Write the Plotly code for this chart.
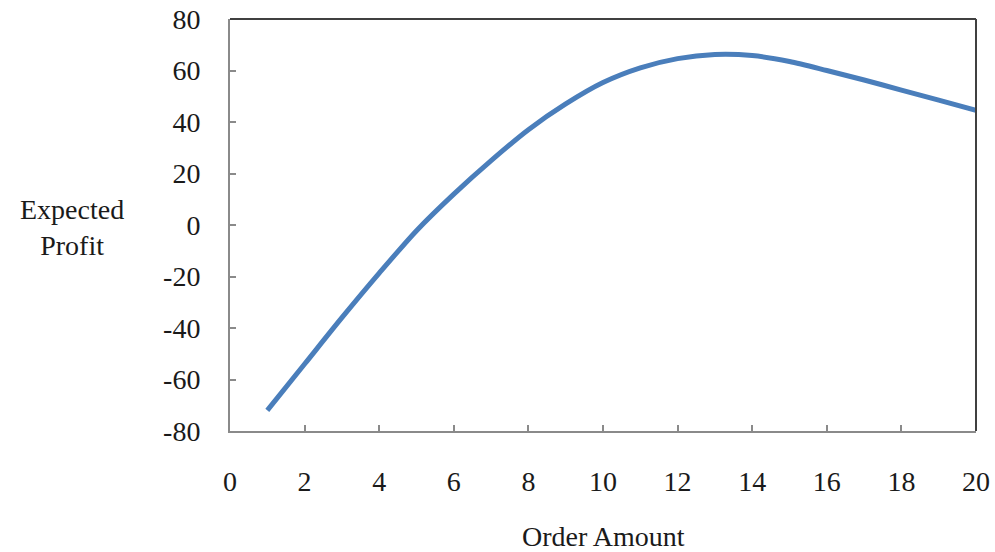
import plotly.graph_objects as go

order_amount = [1, 2, 3, 4, 5, 6, 7, 8, 9, 10, 11, 12, 13, 14, 15, 16, 17, 18, 19, 20]
expected_profit = [-72, -54, -36, -18.7, -2.2, 12, 25, 37, 47, 55.3, 61, 64.6, 66.2, 65.8, 63.5, 60, 56.3, 52.4, 48.5, 44.5]

x_ticks = list(range(0, 21, 2))
y_ticks = list(range(-80, 81, 20))

FONT = "Liberation Serif, Times New Roman, serif"
TXT = "#1a1a1a"

fig = go.Figure()
fig.add_trace(go.Scatter(
    x=order_amount, y=expected_profit, mode="lines",
    line=dict(color="#4a7ebb", width=5, shape="spline", smoothing=0.8),
    showlegend=False, hoverinfo="skip",
))

fig.update_layout(
    width=995, height=552,
    margin=dict(l=230, r=19, t=19, b=121, autoexpand=False),
    paper_bgcolor="white", plot_bgcolor="white",
    font=dict(family=FONT, size=28, color=TXT),
    xaxis=dict(range=[0, 20], tickvals=x_ticks, ticktext=[str(v) for v in x_ticks],
               automargin=False,
               showgrid=False, zeroline=False, showline=True, linecolor="#8a8a8a", linewidth=2,
               ticks="inside", ticklen=6, tickcolor="#8a8a8a", tickwidth=1.5,
               ticklabelstandoff=24, tickfont=dict(family=FONT, size=28, color=TXT)),
    yaxis=dict(range=[-80, 80], tickvals=y_ticks, ticktext=[str(v) for v in y_ticks],
               automargin=False,
               showgrid=False, zeroline=False, showline=True, linecolor="#8a8a8a", linewidth=2,
               ticks="inside", ticklen=6, tickcolor="#8a8a8a", tickwidth=1.5,
               ticklabelstandoff=22, tickfont=dict(family=FONT, size=28, color=TXT)),
    shapes=[
        dict(type="line", xref="paper", yref="paper", x0=0, x1=1, y0=1, y1=1,
             line=dict(color="#404040", width=2)),
        dict(type="line", xref="paper", yref="paper", x0=1, x1=1, y0=0, y1=1,
             line=dict(color="#404040", width=2)),
    ],
    annotations=[
        dict(text="Expected<br>Profit", xref="paper", yref="paper", x=-0.212, y=0.493,
             xanchor="center", yanchor="middle",
             showarrow=False, align="center", font=dict(family=FONT, size=28, color=TXT)),
        dict(text="Order Amount", xref="paper", yref="paper", x=0.5, y=-0.257,
             xanchor="center", yanchor="middle",
             showarrow=False, font=dict(family=FONT, size=28, color=TXT)),
    ],
)

fig.write_html("out.html", config={"displayModeBar": False},
               post_script="document.body.style.margin='0';")
